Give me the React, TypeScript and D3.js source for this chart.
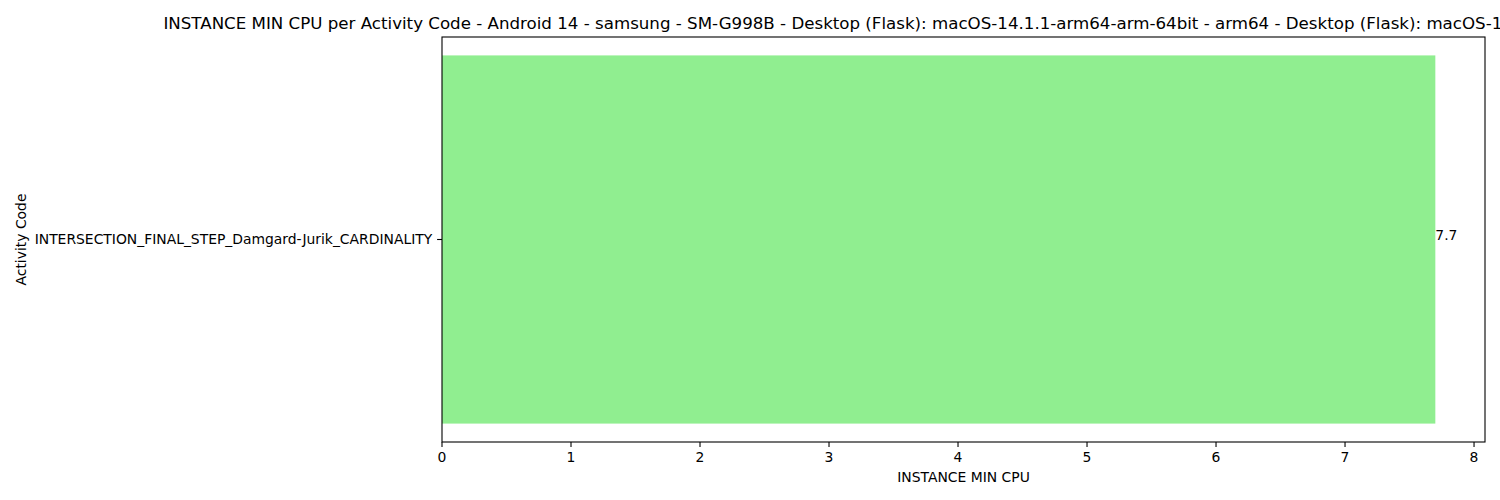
import React from 'react';
import * as d3 from 'd3';

const categories = ['INTERSECTION_FINAL_STEP_Damgard-Jurik_CARDINALITY'];
const values = [7.7];
const xTicks = [0, 1, 2, 3, 4, 5, 6, 7, 8];
const title =
    'INSTANCE MIN CPU per Activity Code - Android 14 - samsung - SM-G998B - Desktop (Flask): macOS-14.1.1-arm64-arm-64bit - arm64 - Desktop (Flask): macOS-14.1.1-arm64-arm-64bit - arm64';

const App = () => {
    const width = 1500;
    const height = 500;
    const marginLeft = 442;
    const marginRight = 15;
    const marginTop = 37;
    const marginBottom = 58;
    const font = 'DejaVu Sans, sans-serif';

    const xMax = d3.max(values) * 1.05;
    const x = d3.scaleLinear().domain([0, xMax]).range([marginLeft, width - marginRight]);
    const n = categories.length;
    const y = d3.scaleLinear().domain([n - 1 + 0.44, -0.44]).range([marginTop, height - marginBottom]);
    const barH = Math.abs(y(0.4) - y(-0.4));

    const midX = (marginLeft + width - marginRight) / 2;
    const plotBottom = height - marginBottom;

    return (
        <svg width={width} height={height} style={{ position: 'absolute', left: 0, top: 0, background: '#fff' }} fontFamily={font}>
            <text x={midX} y={29} textAnchor="middle" fontSize={16.67} fill="#000">{title}</text>
            <g>
                {values.map((v, i) => (
                    <rect key={i} x={x(0)} y={y(i) - barH / 2} width={x(v) - x(0)} height={barH} fill="lightgreen" />
                ))}
                {values.map((v, i) => (
                    <text key={'l' + i} x={x(v)} y={y(i)} fontSize={13.9} fill="#000">{v}</text>
                ))}
            </g>
            <rect x={marginLeft} y={marginTop} width={width - marginRight - marginLeft} height={plotBottom - marginTop} fill="none" stroke="#000" strokeWidth={1.1} />
            {xTicks.map(t => (
                <g key={t} transform={`translate(${x(t)},${plotBottom})`}>
                    <line y2={4.9} stroke="#000" strokeWidth={1.1} />
                    <text y={9.8} dy="0.76em" textAnchor="middle" fontSize={13.9} fill="#000">{t}</text>
                </g>
            ))}
            {categories.map((c, i) => (
                <g key={c} transform={`translate(${marginLeft},${y(i)})`}>
                    <line x2={-4.9} stroke="#000" strokeWidth={1.1} />
                    <text x={-9.8} dy="0.35em" textAnchor="end" fontSize={13.9} fill="#000">{c}</text>
                </g>
            ))}
            <text x={midX} y={482} textAnchor="middle" fontSize={13.9} fill="#000">INSTANCE MIN CPU</text>
            <text transform={`translate(26,${(marginTop + plotBottom) / 2}) rotate(-90)`} textAnchor="middle" fontSize={13.9} fill="#000">Activity Code</text>
        </svg>
    );
};

export default App;
